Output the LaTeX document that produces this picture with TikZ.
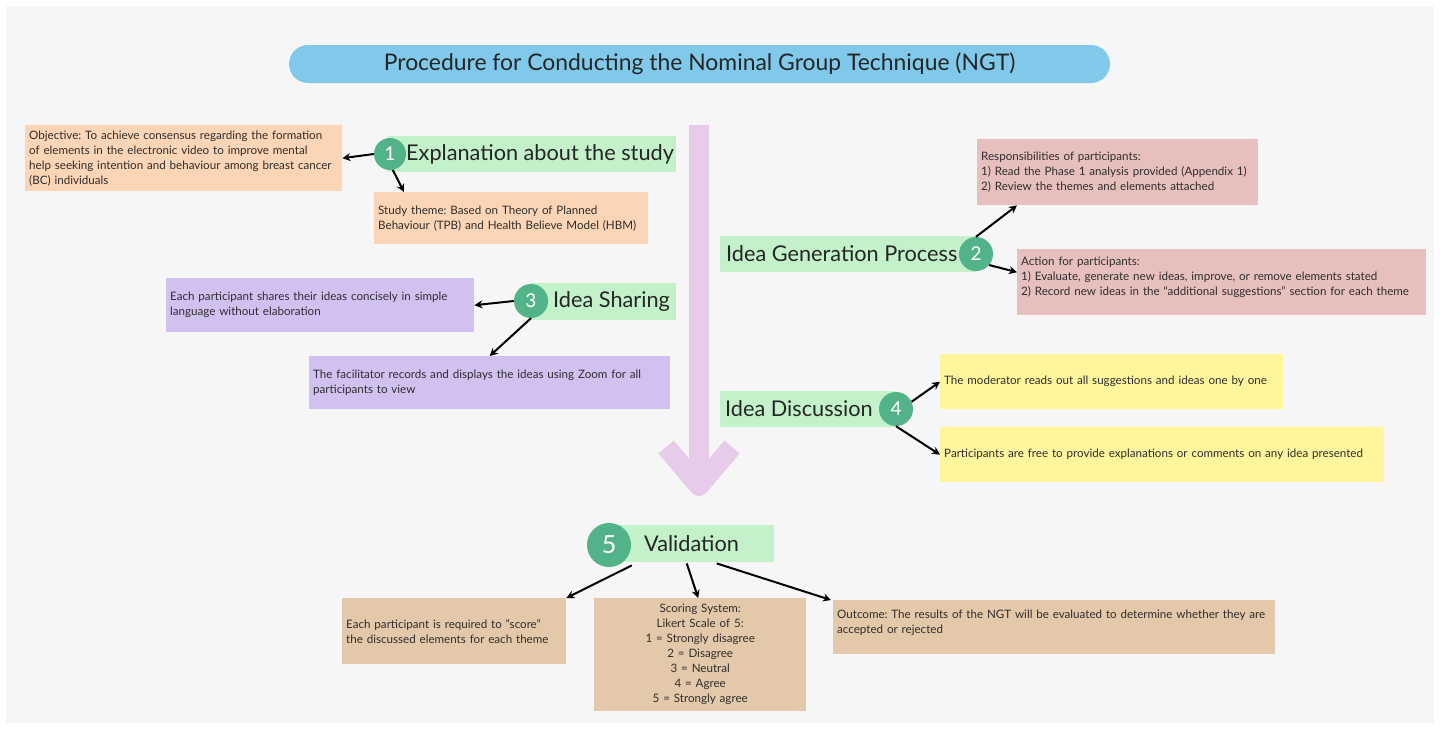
\documentclass[tikz,border=0pt]{standalone}
\usepackage{fontspec}
\setmainfont{Lato}
\usetikzlibrary{arrows.meta,calc}
\definecolor{bgc}{HTML}{F6F6F6}
\definecolor{titlec}{HTML}{80C9EA}
\definecolor{greenbox}{HTML}{C3F1CA}
\definecolor{circc}{HTML}{52B288}
\definecolor{arrowc}{HTML}{E7CCEA}
\definecolor{orangec}{HTML}{FBD5B5}
\definecolor{pinkc}{HTML}{E7C0BE}
\definecolor{purplec}{HTML}{D1C1F0}
\definecolor{yellowc}{HTML}{FFF59D}
\definecolor{tanc}{HTML}{E3C9A9}
\definecolor{txt}{HTML}{2E2E2E}
\newcommand\fdesc{\fontsize{11.6}{15}\selectfont}
\frenchspacing
\begin{document}
\begin{tikzpicture}[x=1pt,y=-1pt,
  descbox/.style={rectangle, anchor=north west, inner xsep=4pt, inner ysep=0pt, align=left, text=txt, font=\fdesc},
  gbox/.style={rectangle, anchor=north west, fill=greenbox, inner sep=0pt},
  gtext/.style={anchor=west, inner sep=0pt, text=black!85, font=\fontsize{21.7}{23}\selectfont},
  num/.style={circle, fill=circc, text=white, minimum size=34pt, inner sep=0pt, font=\fontsize{19}{19}\selectfont},
  arr/.style={-{Stealth[length=8pt,width=8pt]}, line width=2pt, black}
]
\useasboundingbox (0,0) rectangle (1440,729);
\fill[white] (0,0) rectangle (1440,729);
\fill[bgc] (6,6) rectangle (1434,723);

% title
\node[rectangle, rounded corners=19pt, fill=titlec, minimum width=821pt, minimum height=38pt, inner sep=0pt, text=black!85, font=\fontsize{22.9}{24}\selectfont] (title) at (699.5,64) {Procedure for Conducting the Nominal Group Technique (NGT)};

% big purple arrow
\draw[arrowc, line width=20pt] (699,125) -- (699,470);
\draw[arrowc, line width=20pt, line join=round] (666,447) -- (699,486) -- (732,447);

% step 1
\node[gbox, minimum width=288pt, minimum height=36pt] (g1) at (388,136) {};
\node[gtext] (t1) at (406,154) {Explanation about the study};
\node[num, minimum size=32pt] (c1) at (390,154) {1};
\node[descbox, fill=orangec, text width=309pt, minimum height=66pt] (obj) at (25,125) {Objective: To achieve consensus regarding the formation\\of elements in the electronic video to improve mental\\help seeking intention and behaviour among breast cancer\\(BC) individuals};
\node[descbox, fill=orangec, text width=266pt, minimum height=52pt] (st) at (374,192) {Study theme: Based on Theory of Planned\\Behaviour (TPB) and Health Believe Model (HBM)};
\draw[arr] (c1.west) -- (obj.east);
\draw[arr] (c1.-80) -- ($(st.north west)+(30,0)$);

% step 2
\node[gbox, minimum width=256pt, minimum height=36pt] (g2) at (720,236) {};
\node[gtext] (t2) at (726,254) {Idea Generation Process};
\node[num] (c2) at (976,254) {2};
\node[descbox, fill=pinkc, text width=273pt, minimum height=66pt] (resp) at (977,139) {Responsibilities of participants:\\1) Read the Phase 1 analysis provided (Appendix 1)\\2) Review the themes and elements attached};
\node[descbox, fill=pinkc, text width=401pt, minimum height=66pt] (act) at (1017,249) {Action for participants:\\1) Evaluate, generate new ideas, improve, or remove elements stated\\2) Record new ideas in the “additional suggestions” section for each theme\\[-3pt]\mbox{}};
\draw[arr] (c2.north) -- ($(resp.south west)+(40,0)$);
\draw[arr] (c2.-40) -- ($(act.west)+(0,-10)$);

% step 3
\node[gbox, minimum width=146pt, minimum height=37pt] (g3) at (530,283) {};
\node[gtext] (t3) at (553,301.5) {Idea Sharing};
\node[num] (c3) at (531,301) {3};
\node[descbox, fill=purplec, text width=300pt, minimum height=54pt] (p1) at (166,278) {\makebox[300pt][s]{Each participant shares their ideas concisely in simple}\\language without elaboration};
\node[descbox, fill=purplec, text width=353pt, minimum height=53pt] (p2) at (309,356) {\makebox[353pt][s]{The facilitator records and displays the ideas using Zoom for all}\\participants to view};
\draw[arr] (c3.west) -- (p1.east);
\draw[arr] (c3.south) -- ($(p2.north)+(0,0)$);

% step 4
\node[gbox, minimum width=175pt, minimum height=36pt] (g4) at (720,391) {};
\node[gtext] (t4) at (725,409) {Idea Discussion};
\node[num] (c4) at (896,409) {4};
\node[descbox, fill=yellowc, text width=335pt, minimum height=55pt] (y1) at (940,354) {The moderator reads out all suggestions and ideas one by one};
\node[descbox, fill=yellowc, text width=436pt, minimum height=55pt] (y2) at (940,427) {Participants are free to provide explanations or comments on any idea presented};
\draw[arr] (c4.25) -- (y1.west);
\draw[arr] (c4.south) -- (y2.west);

% step 5
\node[gbox, minimum width=165pt, minimum height=37pt] (g5) at (609,525) {};
\node[gtext] (t5) at (644,544) {Validation};
\node[num, minimum size=44pt, font=\fontsize{25}{25}\selectfont] (c5) at (609,545) {5};
\node[descbox, fill=tanc, text width=216pt, minimum height=66pt] (ta) at (342,598) {Each participant is required to "score"\\the discussed elements for each theme};
\node[descbox, fill=tanc, text width=204pt, minimum height=113pt, align=center] (tb) at (594,598) {Scoring System:\\Likert Scale of 5:\\1 = Strongly disagree\\2 = Disagree\\3 = Neutral\\4 = Agree\\5 = Strongly agree};
\node[descbox, fill=tanc, text width=434pt, minimum height=54pt] (tc) at (833,600) {Outcome: The results of the NGT will be evaluated to determine whether they are\\accepted or rejected\\[-4pt]\mbox{}};
\draw[arr] ($(g5.south)+(-60,3)$) -- (ta.north east);
\draw[arr] ($(g5.south)+(-5,1)$) -- ($(tb.north)+(-2,0)$);
\draw[arr] ($(g5.south)+(25,1)$) -- ($(tc.north west)+(-2,0)$);
\end{tikzpicture}
\end{document}
